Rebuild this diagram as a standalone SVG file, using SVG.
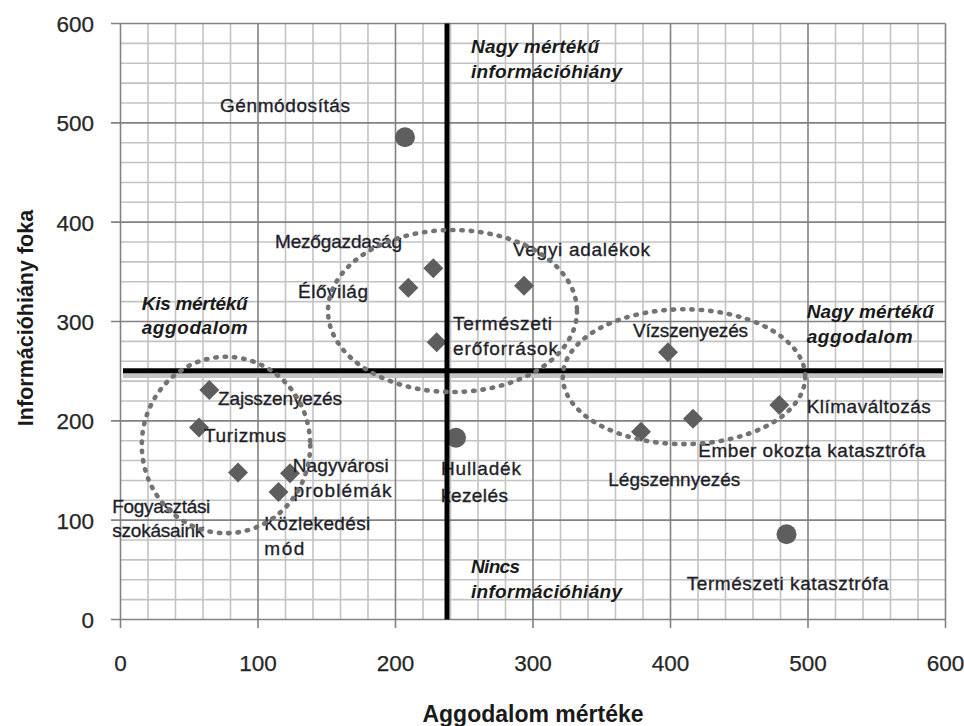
<svg xmlns="http://www.w3.org/2000/svg" width="964" height="726" viewBox="0 0 964 726">
<style>
.minor{stroke:#c3c3c3;stroke-width:1.6;fill:none}
.major{stroke:#828282;stroke-width:1.6;fill:none}
.tick{font-family:"Liberation Sans",Arial,sans-serif;font-size:22.5px;fill:#262626;stroke:#262626;stroke-width:0.25}
.ax{font-family:"Liberation Sans",Arial,sans-serif;font-weight:bold;fill:#1a1a1a}
.lb{font-family:"Liberation Sans",Arial,sans-serif;font-size:19px;fill:#1f1f2a;stroke:#1f1f2a;stroke-width:0.35}
.bi{font-family:"Liberation Sans",Arial,sans-serif;font-size:19px;font-weight:bold;font-style:italic;fill:#1a1a1a}
.mk{fill:#5e5e5e}
.dot{fill:none;stroke:#737373;stroke-width:4.6;stroke-dasharray:1.4 8;stroke-linecap:round}
</style>
<defs>
<path id="dia" d="M0,-10 L10,0 L0,10 L-10,0 Z"/>
</defs>
<rect width="964" height="726" fill="#ffffff"/>
<g id="grid">
<path class="minor" d="M148 23.5V619.5M175.5 23.5V619.5M203 23.5V619.5M230.5 23.5V619.5M285.5 23.5V619.5M313 23.5V619.5M340.5 23.5V619.5M368 23.5V619.5M423 23.5V619.5M450.5 23.5V619.5M478 23.5V619.5M505.5 23.5V619.5M560.5 23.5V619.5M588 23.5V619.5M615.5 23.5V619.5M643 23.5V619.5M698 23.5V619.5M725.5 23.5V619.5M753 23.5V619.5M780.5 23.5V619.5M835.5 23.5V619.5M863 23.5V619.5M890.5 23.5V619.5M918 23.5V619.5
M120.5 599.63H945.5M120.5 579.77H945.5M120.5 559.9H945.5M120.5 540.03H945.5M120.5 500.3H945.5M120.5 480.43H945.5M120.5 460.57H945.5M120.5 440.7H945.5M120.5 400.97H945.5M120.5 381.1H945.5M120.5 361.23H945.5M120.5 341.37H945.5M120.5 301.63H945.5M120.5 281.77H945.5M120.5 261.9H945.5M120.5 242.03H945.5M120.5 202.3H945.5M120.5 182.43H945.5M120.5 162.57H945.5M120.5 142.7H945.5M120.5 102.97H945.5M120.5 83.1H945.5M120.5 63.23H945.5M120.5 43.37H945.5"/>
<path class="major" d="M258 23.5V628M395.5 23.5V628M533 23.5V628M670.5 23.5V628M808 23.5V628M945.5 23.5V628M120.5 23.5V628
M111 520.17H945.5M111 420.83H945.5M111 321.5H945.5M111 222.17H945.5M111 122.83H945.5M111 23.5H945.5M111 619.5H945.5"/>
</g>
<g id="axis-labels">
<text class="tick" x="94" y="628" text-anchor="end">0</text>
<text class="tick" x="94" y="528.7" text-anchor="end">100</text>
<text class="tick" x="94" y="429.3" text-anchor="end">200</text>
<text class="tick" x="94" y="330" text-anchor="end">300</text>
<text class="tick" x="94" y="230.7" text-anchor="end">400</text>
<text class="tick" x="94" y="131.3" text-anchor="end">500</text>
<text class="tick" x="94" y="32" text-anchor="end">600</text>
<text class="tick" x="120.5" y="670.5" text-anchor="middle">0</text>
<text class="tick" x="258" y="670.5" text-anchor="middle">100</text>
<text class="tick" x="395.5" y="670.5" text-anchor="middle">200</text>
<text class="tick" x="533" y="670.5" text-anchor="middle">300</text>
<text class="tick" x="670.5" y="670.5" text-anchor="middle">400</text>
<text class="tick" x="808" y="670.5" text-anchor="middle">500</text>
<text class="tick" x="945.5" y="670.5" text-anchor="middle">600</text>
<text class="ax" x="533" y="722" text-anchor="middle" font-size="23">Aggodalom mértéke</text>
<text class="ax" transform="translate(32.5,318) rotate(-90)" text-anchor="middle" font-size="21.5">Információhiány foka</text>
</g>
<g id="p-genmodositas"><circle class="mk" cx="405" cy="137.3" r="10"/><text class="lb" x="220" y="112" textLength="130" lengthAdjust="spacing">Génmódosítás</text></g>
<g id="p-mezogazdasag"><use href="#dia" class="mk" x="433.3" y="268.3"/><text class="lb" x="275" y="248" textLength="127" lengthAdjust="spacing">Mezőgazdaság</text></g>
<g id="p-elovilag"><use href="#dia" class="mk" x="408.3" y="287.7"/><text class="lb" x="298" y="298" textLength="70" lengthAdjust="spacing">Élővilág</text></g>
<g id="p-termeszeti-eroforrasok"><use href="#dia" class="mk" x="436.7" y="342.2"/><text class="lb" x="453" y="330" textLength="99" lengthAdjust="spacing">Természeti</text><text class="lb" x="453" y="355" textLength="105" lengthAdjust="spacing">erőforrások</text></g>
<g id="p-vegyi-adalekok"><use href="#dia" class="mk" x="524" y="285.7"/><text class="lb" x="513" y="256" textLength="137" lengthAdjust="spacing">Vegyi adalékok</text></g>
<g id="p-vizszenyezes"><use href="#dia" class="mk" x="668" y="352.2"/><text class="lb" x="633" y="337" textLength="115" lengthAdjust="spacing">Vízszenyezés</text></g>
<g id="p-zajszenyezes"><use href="#dia" class="mk" x="209.3" y="390"/><text class="lb" x="218" y="405" textLength="124" lengthAdjust="spacing">Zajsszenyezés</text></g>
<g id="p-turizmus"><use href="#dia" class="mk" x="199" y="427.5"/><text class="lb" x="204" y="441.7" textLength="82" lengthAdjust="spacing">Turizmus</text></g>
<g id="p-fogyasztasi"><use href="#dia" class="mk" x="238" y="472.5"/><text class="lb" x="112.3" y="512.7" textLength="98" lengthAdjust="spacing">Fogyasztási</text><text class="lb" x="112.3" y="536.7" textLength="92" lengthAdjust="spacing">szokásaink</text></g>
<g id="p-nagyvarosi"><use href="#dia" class="mk" x="290" y="473.3"/><text class="lb" x="292.7" y="471.7" textLength="96" lengthAdjust="spacing">Nagyvárosi</text><text class="lb" x="293.5" y="497.3" textLength="98" lengthAdjust="spacing">problémák</text></g>
<g id="p-kozlekedesi"><use href="#dia" class="mk" x="278.5" y="492"/><text class="lb" x="264.3" y="530" textLength="106" lengthAdjust="spacing">Közlekedési</text><text class="lb" x="264.3" y="555" textLength="40" lengthAdjust="spacing">mód</text></g>
<g id="p-hulladek"><circle class="mk" cx="456" cy="437.7" r="10"/><text class="lb" x="441" y="475" textLength="80" lengthAdjust="spacing">Hulladék</text><text class="lb" x="441" y="502" textLength="67" lengthAdjust="spacing">kezelés</text></g>
<g id="p-legszennyezes"><use href="#dia" class="mk" x="641" y="431.7"/><text class="lb" x="608.3" y="486" textLength="132" lengthAdjust="spacing">Légszennyezés</text></g>
<g id="p-ember"><use href="#dia" class="mk" x="693" y="418.7"/><text class="lb" x="698.3" y="457.3" textLength="227" lengthAdjust="spacing">Ember okozta katasztrófa</text></g>
<g id="p-klima"><use href="#dia" class="mk" x="779.3" y="405"/><text class="lb" x="806.7" y="413.3" textLength="124" lengthAdjust="spacing">Klímaváltozás</text></g>
<g id="p-termeszeti-katasztrofa"><circle class="mk" cx="786.5" cy="534.3" r="10"/><text class="lb" x="686.7" y="590" textLength="202" lengthAdjust="spacing">Természeti katasztrófa</text></g>
<g id="quadrant-labels">
<text class="bi" x="471" y="53.3" textLength="128" lengthAdjust="spacing">Nagy mértékű</text>
<text class="bi" x="471" y="78.3" textLength="151" lengthAdjust="spacing">információhiány</text>
<text class="bi" x="141.7" y="310" textLength="106" lengthAdjust="spacing">Kis mértékű</text>
<text class="bi" x="141.7" y="334" textLength="106" lengthAdjust="spacing">aggodalom</text>
<text class="bi" x="806.7" y="318.3" textLength="127" lengthAdjust="spacing">Nagy mértékű</text>
<text class="bi" x="806.7" y="343" textLength="106" lengthAdjust="spacing">aggodalom</text>
<text class="bi" x="471" y="572.5" textLength="49" lengthAdjust="spacing">Nincs</text>
<text class="bi" x="471" y="597.5" textLength="151" lengthAdjust="spacing">információhiány</text>
</g>
<g id="connectors">
<line x1="123" y1="375.5" x2="943" y2="375.5" stroke="#c4c4c4" stroke-width="5"/>
<line x1="123" y1="370.8" x2="943" y2="370.8" stroke="#000" stroke-width="5"/>
<line x1="447" y1="23.5" x2="447" y2="619.5" stroke="#000" stroke-width="5"/>
<ellipse class="dot" cx="226" cy="445" rx="84.2" ry="88.2"/>
<ellipse class="dot" cx="452.5" cy="311" rx="124.5" ry="81"/>
<ellipse class="dot" cx="684" cy="376.7" rx="121.2" ry="67.4"/>
</g>
</svg>
